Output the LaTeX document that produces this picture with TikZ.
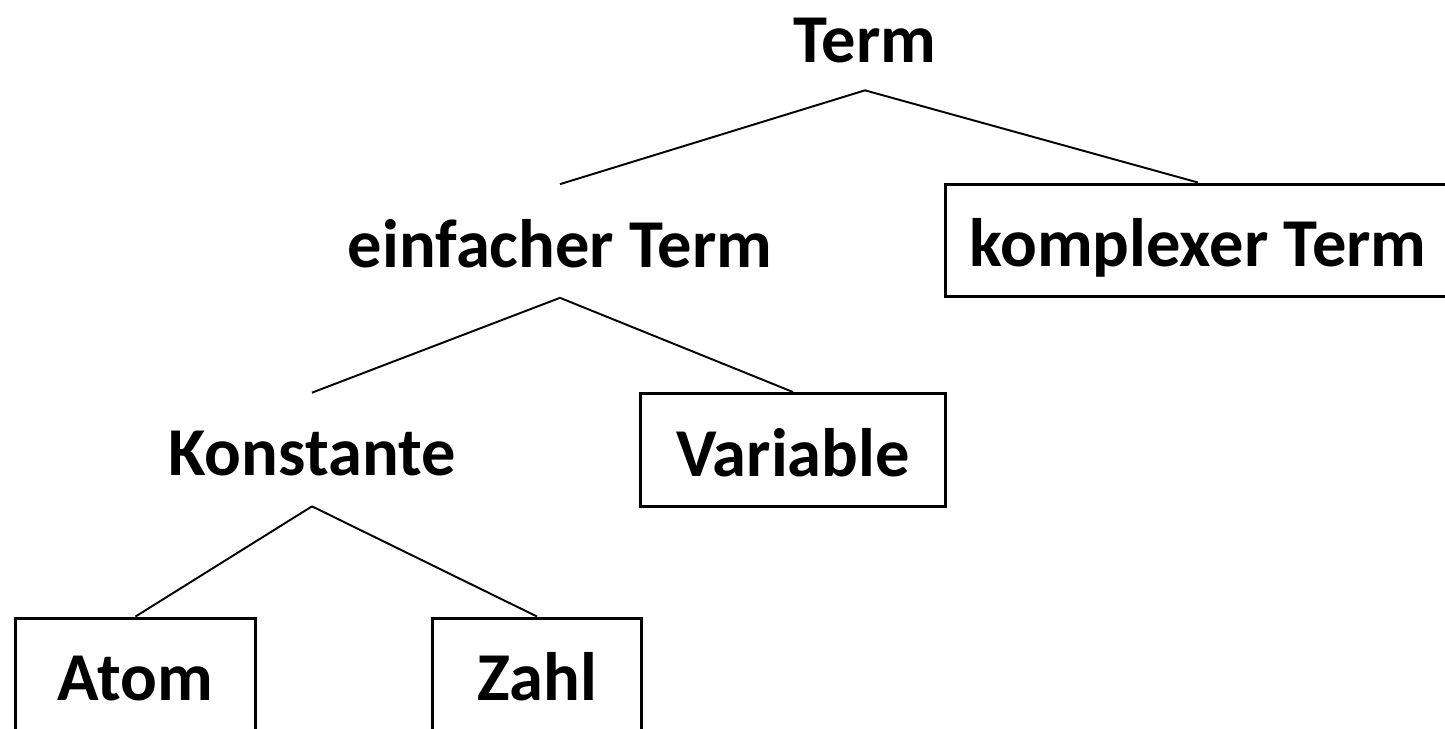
\documentclass[tikz,border=0pt]{standalone}
\usepackage{fontspec}
\setmainfont{Carlito}
\begin{document}
\begin{tikzpicture}[x=0.02cm,y=-0.02cm,
  lbl/.style={font=\fontsize{39}{46}\selectfont\bfseries, inner sep=0pt,
    text height=29.7pt, text depth=0pt, minimum height=2.26cm},
  boxed/.style={lbl, draw, line width=1.7pt},
  conn/.style={line width=1.1pt}]
\useasboundingbox (0,0) rectangle (1445,729);
\begin{scope}
\clip (0,0) rectangle (1445,729);
\node[lbl, minimum height=2.16cm] (term) at (865,36) {Term};
\node[lbl] (einf) at (560,241) {einfacher Term};
\node[boxed, minimum width=10.1cm] (kompl) at (1198,240.5) {komplexer Term};
\node[lbl] (konst) at (312,449.5) {Konstante};
\node[boxed, minimum width=6.12cm] (var) at (793,450) {Variable};
\node[boxed, minimum width=4.82cm] (atom) at (135.5,674.5) {Atom};
\node[boxed, minimum width=4.2cm] (zahl) at (537,674.5) {Zahl};
\end{scope}
\draw[conn] (term.south) -- (einf.north);
\draw[conn] (term.south) -- (kompl.north);
\draw[conn] (einf.south) -- (konst.north);
\draw[conn] (einf.south) -- (var.north);
\draw[conn] (konst.south) -- (atom.north);
\draw[conn] (konst.south) -- (zahl.north);
\end{tikzpicture}
\end{document}
